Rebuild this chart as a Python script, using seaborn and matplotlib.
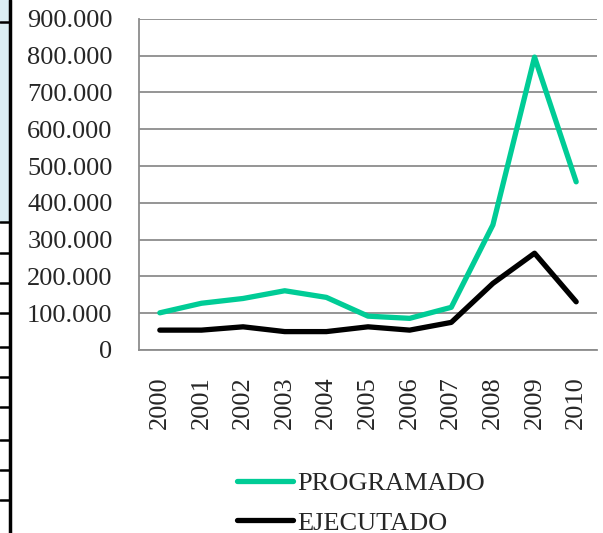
import pandas as pd
import numpy as np
import matplotlib
matplotlib.use("Agg")
import matplotlib.pyplot as plt
import seaborn as sns
from matplotlib.ticker import FuncFormatter, FixedLocator
from matplotlib.patches import Rectangle
from matplotlib.lines import Line2D

# Data
years = ["2000", "2001", "2002", "2003", "2004", "2005", "2006", "2007", "2008", "2009", "2010"]
programado = [101000, 127000, 140000, 161000, 143000, 92000, 86000, 116000, 340000, 796000, 457000]
ejecutado = [54000, 54000, 63000, 50000, 50000, 63000, 54000, 75000, 181000, 263000, 131000]
series_names = ["PROGRAMADO", "EJECUTADO"]
series_colors = ["#00cc96", "#000000"]

df = pd.DataFrame({"Year": years, "PROGRAMADO": programado, "EJECUTADO": ejecutado})
df["pos"] = np.arange(len(years))
melted_df = df.melt(id_vars=["Year", "pos"], value_vars=series_names,
                    var_name="Serie", value_name="Valor")

sns.set_style("white")
plt.rcParams["font.family"] = ["Liberation Serif", "DejaVu Serif"]

fig = plt.figure(figsize=(6.03, 5.33), dpi=100)
ax = fig.add_axes([139 / 603, 1 - 350 / 533, (597 - 139) / 603, (350 - 18.8) / 533])

sns.lineplot(data=melted_df, x="pos", y="Valor", hue="Serie", hue_order=series_names,
             palette=series_colors, linewidth=3.8, ax=ax, legend=False,
             solid_capstyle="round", solid_joinstyle="round")

ax.set_xlim(-0.5, len(years) - 0.5)
ax.set_ylim(0, 900000)
ax.yaxis.set_major_locator(FixedLocator(np.arange(0, 900001, 100000)))
ax.yaxis.set_major_formatter(FuncFormatter(lambda v, p: "0" if v == 0 else f"{int(v):,}".replace(",", ".")))
ax.grid(axis="y", color="#8c8c8c", linewidth=1.3)
ax.set_axisbelow(True)

ax.set_xticks(np.arange(len(years)))
ax.set_xticklabels(years, rotation=90, fontsize=19)
ax.set_xticks(np.arange(-0.5, len(years), 1), minor=True)
ax.tick_params(axis="x", which="major", length=0, pad=19)
ax.tick_params(axis="x", which="minor", length=6, width=1.3, color="#8c8c8c")
ax.tick_params(axis="y", length=7, width=1.3, color="#8c8c8c", pad=12, labelsize=19)
ax.set_xlabel("")
ax.set_ylabel("")

for side in ["top", "right"]:
    ax.spines[side].set_visible(False)
for side in ["left", "bottom"]:
    ax.spines[side].set_color("#8c8c8c")
    ax.spines[side].set_linewidth(1.3)

handles = [Line2D([0], [0], color=c, linewidth=3.8, solid_capstyle="round") for c in series_colors]
fig.legend(handles, series_names, loc="center", bbox_to_anchor=(361 / 603, 1 - 503 / 533),
           frameon=False, fontsize=19, handlelength=2.1, handletextpad=0.15, labelspacing=0.62)

# table border fragments at the left edge of the source page
fig.add_artist(Rectangle((0, 1 - 222 / 533), 9 / 603, 222 / 533, transform=fig.transFigure,
                         facecolor="#dbeef4", edgecolor="none"))
fig.add_artist(Line2D([10 / 603, 10 / 603], [0, 1], transform=fig.transFigure, color="black", linewidth=2.5))
for yy in [22, 222, 253, 283, 313, 347, 377, 407, 440, 470, 500]:
    fig.add_artist(Line2D([0, 10 / 603], [1 - yy / 533, 1 - yy / 533], transform=fig.transFigure,
                          color="black", linewidth=1.8))

plt.savefig("out.png", dpi=100)
